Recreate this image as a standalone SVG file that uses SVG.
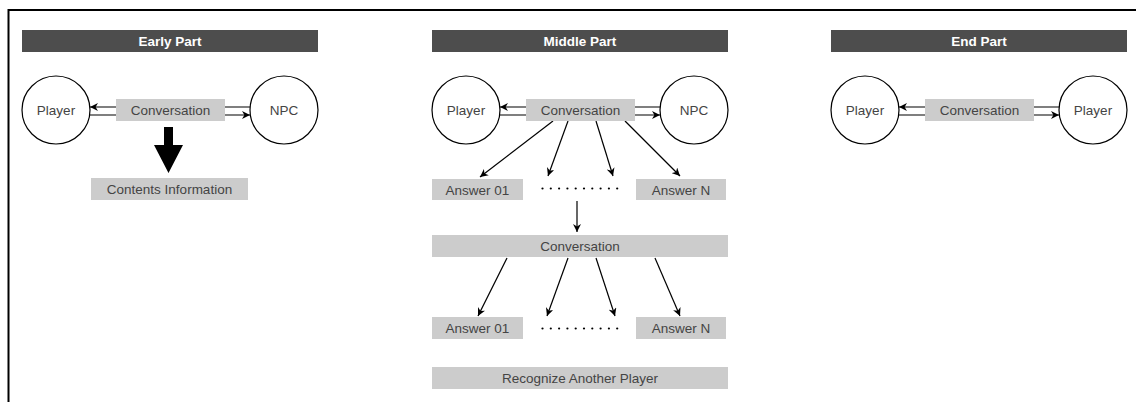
<svg xmlns="http://www.w3.org/2000/svg" width="1136" height="402" viewBox="0 0 1136 402">
<defs>
<style>
.hdr{fill:#4d4d4d}
.hdrt{font-family:"Liberation Sans",Arial,sans-serif;font-size:13.5px;font-weight:bold;fill:#ffffff;text-anchor:middle}
.box{fill:#cccccc}
.t{font-family:"Liberation Sans",Arial,sans-serif;font-size:13.5px;fill:#444444;text-anchor:middle}
.circ{fill:#ffffff;stroke:#000000;stroke-width:1.2}
.ln{stroke:#000000;stroke-width:1.2;fill:none}
.dot{fill:#000000}
</style>
<marker id="ah" viewBox="0 0 10 10" refX="10" refY="5" markerWidth="8" markerHeight="8" markerUnits="userSpaceOnUse" orient="auto">
<path d="M0,0 L10,5 L0,10 L3,5 z" fill="#000000"/>
</marker>
</defs>
<rect x="0" y="0" width="1136" height="402" fill="#ffffff"/>
<path d="M8.5,402 V10 H1136" fill="none" stroke="#000000" stroke-width="2"/>

<g id="connectors">
<!-- early -->
<line class="ln" x1="250" y1="107" x2="90" y2="107" marker-end="url(#ah)"/>
<line class="ln" x1="90" y1="115" x2="250" y2="115" marker-end="url(#ah)"/>
<path d="M164,127 H173 V145 H183 L168.5,173 L154,145 H164 Z" fill="#000000"/>
<!-- middle -->
<line class="ln" x1="660" y1="107" x2="500" y2="107" marker-end="url(#ah)"/>
<line class="ln" x1="500" y1="115" x2="660" y2="115" marker-end="url(#ah)"/>
<line class="ln" x1="553" y1="121" x2="480" y2="177" marker-end="url(#ah)"/>
<line class="ln" x1="568" y1="121" x2="548" y2="176" marker-end="url(#ah)"/>
<line class="ln" x1="596" y1="121" x2="613" y2="176" marker-end="url(#ah)"/>
<line class="ln" x1="625" y1="121" x2="680" y2="176" marker-end="url(#ah)"/>
<line class="ln" x1="577" y1="201" x2="577" y2="232" marker-end="url(#ah)"/>
<line class="ln" x1="507" y1="258" x2="478" y2="316" marker-end="url(#ah)"/>
<line class="ln" x1="568" y1="258" x2="547" y2="316" marker-end="url(#ah)"/>
<line class="ln" x1="596" y1="258" x2="615" y2="316" marker-end="url(#ah)"/>
<line class="ln" x1="655" y1="258" x2="680" y2="316" marker-end="url(#ah)"/>
<!-- end -->
<line class="ln" x1="1059" y1="107" x2="899" y2="107" marker-end="url(#ah)"/>
<line class="ln" x1="899" y1="115" x2="1059" y2="115" marker-end="url(#ah)"/>
</g>

<!-- Early Part -->
<g id="early-header"><rect class="hdr" x="22" y="30" width="296" height="22"/><text class="hdrt" x="170" y="46">Early Part</text></g>
<g id="early-player"><circle class="circ" cx="56" cy="110" r="34"/><text class="t" x="56" y="115">Player</text></g>
<g id="early-npc"><circle class="circ" cx="284" cy="110" r="34"/><text class="t" x="284" y="115">NPC</text></g>
<g id="early-conversation"><rect class="box" x="116" y="99" width="109" height="22"/><text class="t" x="170.5" y="115">Conversation</text></g>
<g id="early-contents"><rect class="box" x="91" y="178" width="157" height="22"/><text class="t" x="169.5" y="194">Contents Information</text></g>

<!-- Middle Part -->
<g id="middle-header"><rect class="hdr" x="432" y="30" width="296" height="22"/><text class="hdrt" x="580" y="46">Middle Part</text></g>
<g id="middle-player"><circle class="circ" cx="466" cy="110" r="34"/><text class="t" x="466" y="115">Player</text></g>
<g id="middle-npc"><circle class="circ" cx="694" cy="110" r="34"/><text class="t" x="694" y="115">NPC</text></g>
<g id="middle-conversation"><rect class="box" x="526" y="99" width="109" height="22"/><text class="t" x="580.5" y="115">Conversation</text></g>
<g id="middle-answer01-a"><rect class="box" x="432" y="179" width="91" height="21"/><text class="t" x="477.5" y="194.5">Answer 01</text></g>
<g id="middle-dots-a">
<circle class="dot" cx="542.5" cy="188.5" r="1.1"/><circle class="dot" cx="550.8" cy="188.5" r="1.1"/><circle class="dot" cx="559.1" cy="188.5" r="1.1"/><circle class="dot" cx="567.4" cy="188.5" r="1.1"/><circle class="dot" cx="575.7" cy="188.5" r="1.1"/><circle class="dot" cx="584" cy="188.5" r="1.1"/><circle class="dot" cx="592.3" cy="188.5" r="1.1"/><circle class="dot" cx="600.6" cy="188.5" r="1.1"/><circle class="dot" cx="608.9" cy="188.5" r="1.1"/><circle class="dot" cx="617.2" cy="188.5" r="1.1"/>
</g>
<g id="middle-answerN-a"><rect class="box" x="636" y="179" width="90" height="21"/><text class="t" x="681" y="194.5">Answer N</text></g>
<g id="middle-conversation-2"><rect class="box" x="432" y="235" width="296" height="22"/><text class="t" x="580" y="251">Conversation</text></g>
<g id="middle-answer01-b"><rect class="box" x="432" y="317" width="91" height="22"/><text class="t" x="477.5" y="333">Answer 01</text></g>
<g id="middle-dots-b">
<circle class="dot" cx="542.5" cy="328.5" r="1.1"/><circle class="dot" cx="550.8" cy="328.5" r="1.1"/><circle class="dot" cx="559.1" cy="328.5" r="1.1"/><circle class="dot" cx="567.4" cy="328.5" r="1.1"/><circle class="dot" cx="575.7" cy="328.5" r="1.1"/><circle class="dot" cx="584" cy="328.5" r="1.1"/><circle class="dot" cx="592.3" cy="328.5" r="1.1"/><circle class="dot" cx="600.6" cy="328.5" r="1.1"/><circle class="dot" cx="608.9" cy="328.5" r="1.1"/><circle class="dot" cx="617.2" cy="328.5" r="1.1"/>
</g>
<g id="middle-answerN-b"><rect class="box" x="636" y="317" width="90" height="22"/><text class="t" x="681" y="333">Answer N</text></g>
<g id="middle-recognize"><rect class="box" x="432" y="367" width="296" height="22"/><text class="t" x="580" y="383">Recognize Another Player</text></g>

<!-- End Part -->
<g id="end-header"><rect class="hdr" x="831" y="30" width="296" height="22"/><text class="hdrt" x="979" y="46">End Part</text></g>
<g id="end-player-1"><circle class="circ" cx="865" cy="110" r="34"/><text class="t" x="865" y="115">Player</text></g>
<g id="end-player-2"><circle class="circ" cx="1093" cy="110" r="34"/><text class="t" x="1093" y="115">Player</text></g>
<g id="end-conversation"><rect class="box" x="925" y="99" width="109" height="22"/><text class="t" x="979.5" y="115">Conversation</text></g>
</svg>
